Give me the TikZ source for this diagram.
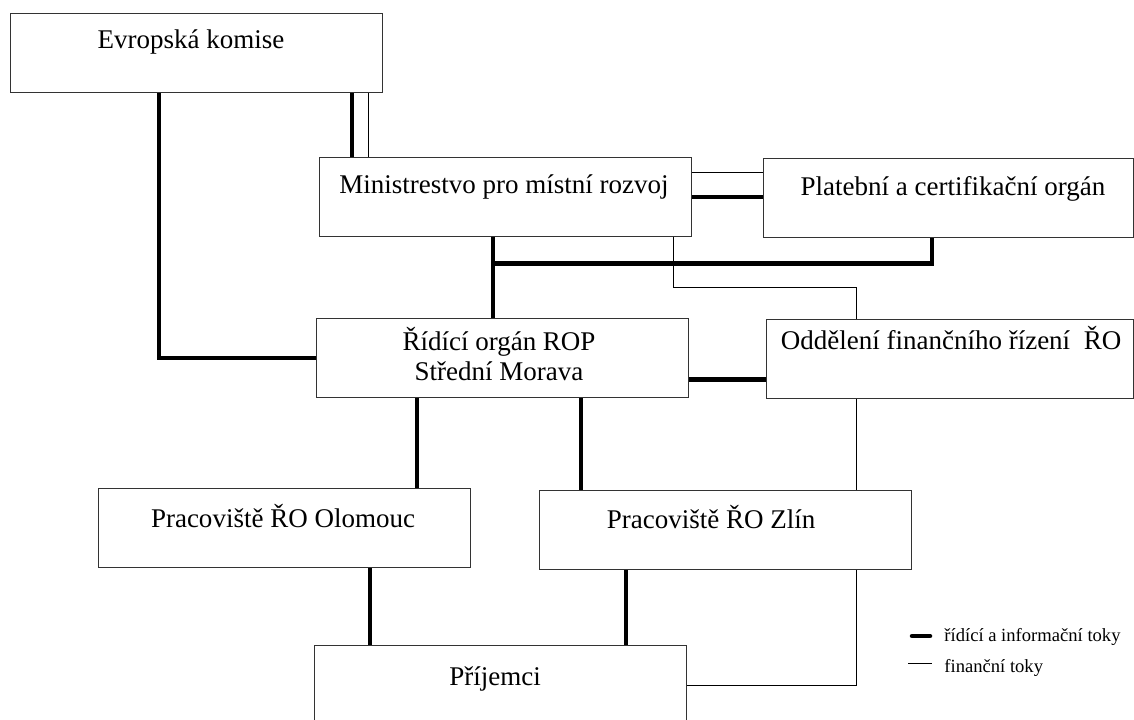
\documentclass[tikz,border=0pt]{standalone}
\usepackage{fontspec}
\setmainfont{LiberationSerif}[Extension=.ttf, UprightFont=*-Regular,
  BoldFont=*-Bold, ItalicFont=*-Italic, BoldItalicFont=*-BoldItalic]
\usetikzlibrary{calc}

\tikzset{
  box/.style={draw=black!80, line width=0.65pt, fill=white, minimum width=186pt,
    minimum height=39.5pt, inner sep=0pt, anchor=north west},
  boxtext/.style={anchor=base, align=center, inner sep=0pt,
    font=\rmfamily\fontsize{13.5}{15}\selectfont},
  legtext/.style={anchor=base west, inner sep=0pt,
    font=\rmfamily\fontsize{9.3}{11}\selectfont},
  ctrl/.style={line width=2.25pt},
  fin/.style={line width=0.5pt}
}

\begin{document}
\begin{tikzpicture}[x=0.5pt, y=-0.5pt]
\useasboundingbox (0,0) rectangle (1134,719);

% Boxes
\node[box] (ek) at (10,13) {};
\node[box] (mmr) at (319,157) {};
\node[box, minimum width=185pt] (pco) at (763,158) {};
\node[box] (ro) at (316,318) {};
\node[box, minimum width=183.5pt] (ofr) at (766,319) {};
\node[box] (olo) at (98,488) {};
\node[box] (zlin) at (539,490) {};
\node[box, minimum height=50pt] (pri) at (314,645) {};

% Texts
\node[boxtext] (ekt) at (191,48) {Evropská komise};
\node[boxtext] (mmrt) at (504,193) {Ministrestvo pro místní rozvoj};
\node[boxtext] (pcot) at (953,195) {Platební a certifikační orgán};
\node[boxtext] (rot) at (499,380) {Řídící orgán ROP\\Střední Morava};
\node[boxtext] (ofrt) at (951,349) {Oddělení finančního řízení~ ŘO};
\node[boxtext] (olot) at (283,527) {Pracoviště ŘO Olomouc};
\node[boxtext] (zlint) at (711,528) {Pracoviště ŘO Zlín};
\node[boxtext] (prit) at (495,685) {Příjemci};

% Points on the boxes
\coordinate (ekA) at ($(ek.south west)+(149,0)$);
\coordinate (mmrA) at ($(mmr.north west)+(33,0)$);
\coordinate (mmrB) at ($(mmr.north west)+(49,0)$);
\coordinate (mmrC) at ($(mmr.south west)+(174,0)$);
\coordinate (mmrD) at ($(mmr.north east)+(0,15)$);
\coordinate (mmrE) at ($(mmr.south east)+(-19,0)$);
\coordinate (jn) at ($(mmrC)+(0,26)$);
\coordinate (pcoA) at ($(pco.south west)+(169,0)$);
\coordinate (ofrA) at ($(ofr.north west)+(90,0)$);
\coordinate (ofrB) at ($(ofr.south west)+(90,0)$);
\coordinate (roA) at ($(ro.south east)+(0,-19)$);
\coordinate (roB) at ($(ro.south west)+(101,0)$);
\coordinate (roC) at ($(ro.south west)+(265,0)$);
\coordinate (oloA) at ($(olo.south west)+(272,0)$);
\coordinate (zlinA) at ($(zlin.south west)+(87,0)$);
\coordinate (priA) at ($(pri.north east)+(0,40)$);

% Control and information flows
\draw[ctrl] (ekA) |- (ro.west);
\draw[ctrl] (mmrA) -- (mmrA |- ek.south);
\draw[ctrl] (mmr.east) -- (mmr.east -| pco.west);
\draw[ctrl] (mmrC) -- (mmrC |- ro.north);
\draw[ctrl] (pcoA) |- (jn);
\draw[ctrl] (roA) -- (roA -| ofr.west);
\draw[ctrl] (roB) -- (roB |- olo.north);
\draw[ctrl] (roC) -- (roC |- zlin.north);
\draw[ctrl] (oloA) -- (oloA |- pri.north);
\draw[ctrl] (zlinA) -- (zlinA |- pri.north);

% Financial flows
\draw[fin] (mmrB) -- (mmrB |- ek.south);
\draw[fin] (mmrD) -- (mmrD -| pco.west);
\draw[fin] (mmrE) -- ++(0,50) -| (ofrA);
\draw[fin] (ofrB) -- (ofrB |- zlin.north);
\draw[fin] (ofrB |- zlin.south) |- (priA);

% Legend
\node[legtext] (lg1) at (944,641) {řídící a informační toky};
\node[legtext] (lg2) at (944,672) {finanční toky};
\draw[ctrl, line cap=round] ($(lg1.base west)+(-32,-5)$) -- ($(lg1.base west)+(-14,-5)$);
\draw[fin] ($(lg2.base west)+(-36,-9)$) -- ($(lg2.base west)+(-12,-9)$);
\end{tikzpicture}
\end{document}
